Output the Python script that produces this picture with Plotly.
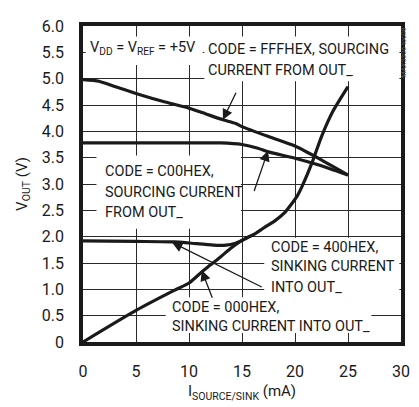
import plotly.graph_objects as go

# ---------------- data ----------------
x_fff = [0, 1.5, 3, 5, 7.5, 10, 11.6, 13.2, 14.4, 15, 17.5, 20, 22.1, 25]
v_fff = [4.98, 4.95, 4.85, 4.72, 4.57, 4.44, 4.33, 4.22, 4.15, 4.09, 3.90, 3.72, 3.50, 3.17]

x_c00 = [0, 5, 10, 13, 15, 16.5, 17.5, 20, 22.1, 25]
v_c00 = [3.78, 3.78, 3.78, 3.78, 3.75, 3.68, 3.61, 3.49, 3.37, 3.17]

x_400 = [0, 5, 8.6, 10, 12.3, 13.5, 14.3, 15, 15.9]
v_400 = [1.92, 1.91, 1.90, 1.88, 1.84, 1.84, 1.87, 1.93, 2.02]

x_000 = [0, 5, 8.6, 10, 11.2, 12, 13, 14, 15, 16.25, 17, 18.1, 19, 19.6, 20.2, 20.7, 21.6, 22.5, 23.6, 25]
v_000 = [0, 0.60, 0.98, 1.12, 1.33, 1.46, 1.62, 1.79, 1.93, 2.06, 2.16, 2.30, 2.45, 2.60, 2.77, 2.97, 3.40, 3.90, 4.39, 4.85]

x_ticks = [0, 5, 10, 15, 20, 25, 30]
x_ticktext = ["0", "5", "10", "15", "20", "25", "30"]
y_ticks = [0, 0.5, 1, 1.5, 2, 2.5, 3, 3.5, 4, 4.5, 5, 5.5, 6]
y_ticktext = ["0", "0.5", "1.0", "1.5", "2.0", "2.5", "3.0", "3.5", "4.0", "4.5", "5.0", "5.5", "6.0"]

FONT = "Roboto, Liberation Sans, sans-serif"
INK = "#1a1a1a"

fig = go.Figure()
for xs, vs in [(x_fff, v_fff), (x_c00, v_c00), (x_400, v_400), (x_000, v_000)]:
    fig.add_trace(go.Scatter(x=xs, y=vs, mode="lines",
                             line=dict(color=INK, width=3.2, shape="spline", smoothing=0.6),
                             showlegend=False, hoverinfo="skip"))

# white masks behind label text (cover gridlines, stay under curves)
masks = [
    (0.25, 11.3, 5.26, 5.8),     # VDD label
    (11.45, 29.85, 4.95, 5.8),   # FFF label
    (1.27, 14.9, 2.15, 3.54),    # C00 label
    (17.1, 29.85, 0.84, 1.98),   # 400 label
    (7.8, 27.2, 0.17, 0.85),     # 000 label
]
for x0, x1, y0, y1 in masks:
    fig.add_shape(type="rect", x0=x0, x1=x1, y0=y0, y1=y1, xref="x", yref="y",
                  fillcolor="white", line=dict(width=0), layer="between")

# label lines: (x left, y centre, text)
label_lines = [
    (0.44, 5.58, "V<sub>DD</sub> = V<sub>REF</sub> = +5V"),
    (11.63, 5.55, "CODE = FFFHEX, SOURCING"),
    (11.63, 5.16, "CURRENT FROM OUT_"),
    (1.91, 3.23, "CODE = C00HEX,"),
    (1.91, 2.83, "SOURCING CURRENT"),
    (1.91, 2.45, "FROM OUT_"),
    (17.5, 1.80, "CODE = 400HEX,"),
    (17.5, 1.43, "SINKING CURRENT"),
    (17.5, 1.03, "INTO OUT_"),
    (8.24, 0.66, "CODE = 000HEX,"),
    (8.24, 0.29, "SINKING CURRENT INTO OUT_"),
]
for x, y, t in label_lines:
    fig.add_annotation(x=x, y=y, xref="x", yref="y", text=t, showarrow=False,
                       xanchor="left", yanchor="middle", align="left",
                       font=dict(family=FONT, size=14.5, color=INK))

arrows = [
    (13.2, 4.22, 14.5, 4.76),
    (17.45, 3.63, 16.1, 2.84),
    (8.4, 1.89, 17.0, 1.03),
    (11.2, 1.36, 12.25, 0.81),
]
for x, y, ax, ay in arrows:
    fig.add_annotation(x=x, y=y, ax=ax, ay=ay, xref="x", yref="y", axref="x", ayref="y",
                       text="", showarrow=True, arrowhead=2, arrowsize=1.6,
                       arrowwidth=1.3, arrowcolor=INK, standoff=0)

fig.add_annotation(x=1.009, y=0.915, xref="paper", yref="paper", text="MAX5306 toc08",
                   showarrow=False, textangle=-90, font=dict(family=FONT, size=7, color="#555"),
                   xanchor="center", yanchor="middle")

axis_common = dict(showline=True, linewidth=3.5, linecolor=INK, mirror=True,
                   showgrid=True, gridcolor="#2a2a2a", gridwidth=1.2, zeroline=False,
                   ticks="outside", ticklen=12, tickcolor="rgba(0,0,0,0)",
                   tickfont=dict(family=FONT, size=16, color=INK))

fig.update_xaxes(range=[0, 30], tickvals=x_ticks, ticktext=x_ticktext,
                 title=dict(text="I<sub>SOURCE/SINK</sub> (mA)", standoff=7,
                            font=dict(family=FONT, size=15, color=INK)),
                 **axis_common)
fig.update_yaxes(range=[0, 6], tickvals=y_ticks, ticktext=y_ticktext,
                 title=dict(text="V<sub>OUT</sub> (V)", standoff=12,
                            font=dict(family=FONT, size=15, color=INK)),
                 **axis_common)

# the page body adds an 8px offset, so the figure is sized to fit the window
fig.update_layout(width=411, height=399, autosize=False,
                  margin=dict(l=75, r=9, t=10, b=55),
                  paper_bgcolor="white", plot_bgcolor="white",
                  font=dict(family=FONT, color=INK))

fig.write_html("out.html")
